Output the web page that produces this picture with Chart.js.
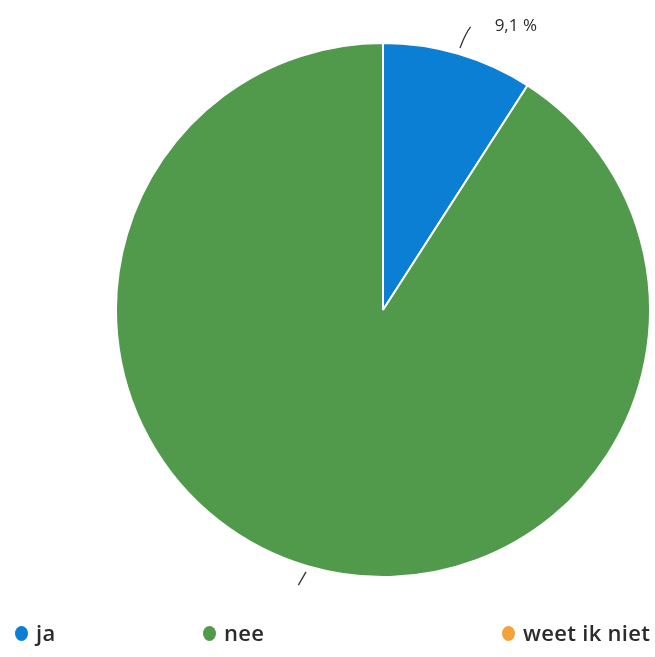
<!DOCTYPE html>
<html lang="nl">
<head>
  <meta charset="UTF-8">
  <title>Taart - ja / nee / weet ik niet</title>
  <script src="https://cdn.jsdelivr.net/npm/chart.js"></script>
  <style>
    html, body { margin: 0; padding: 0; background: #fff; }
    #wrap { position: relative; width: 655px; height: 657px; }
    #legenda { position: absolute; left: 0; top: 619px; width: 655px; height: 26px;
      font-family: "Open Sans", "DejaVu Sans", sans-serif; font-size: 22px; font-weight: 600; color: #2b2b2b; }
    #legenda span { position: absolute; top: 0; line-height: 26px; white-space: nowrap; letter-spacing: 0.3px; }
    #legenda i { display: inline-block; width: 13px; height: 15px; border-radius: 50%; margin-right: 8px; vertical-align: 0px; }
  </style>
</head>
<body>
  <div id="wrap">
    <canvas id="taart" width="655" height="657"></canvas>
    <div id="legenda"></div>
  </div>

  <script>
    const categorieen = ['ja', 'nee', 'weet ik niet'];
    const waarden = [9.1, 90.9, 0];
    const kleuren = ['#0b7fd4', '#519a4b', '#f2a23a'];
    const labelTekst = ['9,1 %', '', ''];
    const legendaX = [15, 203, 502];

    // legenda in html, de items staan niet gelijk verdeeld
    const leg = document.getElementById('legenda');
    categorieen.forEach((c, i) => {
      const s = document.createElement('span');
      s.style.left = legendaX[i] + 'px';
      s.innerHTML = `<i style="background:${kleuren[i]}"></i>${c}`;
      leg.appendChild(s);
    });

    // lijntjes + percentages naast de taart
    const labelPlugin = {
      id: 'labels',
      afterDatasetsDraw(chart) {
        const ctx = chart.ctx;
        const meta = chart.getDatasetMeta(0);
        meta.data.forEach((arc, i) => {
          if (!waarden[i]) return;
          const mid = (arc.startAngle + arc.endAngle) / 2;
          const r = arc.outerRadius;
          const x1 = arc.x + Math.cos(mid) * (r + 6), y1 = arc.y + Math.sin(mid) * (r + 6);
          const x2 = arc.x + Math.cos(mid) * (r + 26), y2 = arc.y + Math.sin(mid) * (r + 26);
          ctx.save();
          ctx.strokeStyle = '#333';
          ctx.lineWidth = 1.3;
          ctx.beginPath();
          ctx.moveTo(x1, y1);
          if (labelTekst[i]) {
            ctx.quadraticCurveTo(x2, y2 + 4, x2 + 5, y2 - 2);
          } else {
            ctx.lineTo(x2 - 2, y2 - 6);
          }
          ctx.stroke();
          if (labelTekst[i]) {
            ctx.fillStyle = '#2b2b2b';
            ctx.font = '17px "Open Sans", "DejaVu Sans", sans-serif';
            ctx.textBaseline = 'middle';
            ctx.fillText(labelTekst[i], x2 + 29, y2 - 3);
          }
          ctx.restore();
        });
      }
    };

    new Chart(document.getElementById('taart'), {
      type: 'pie',
      data: {
        labels: categorieen,
        datasets: [{
          data: waarden,
          backgroundColor: kleuren,
          borderColor: '#ffffff',
          borderWidth: 2
        }]
      },
      options: {
        responsive: false,
        animation: false,
        layout: { padding: { top: 42, bottom: 79, left: 115, right: 4 } },
        plugins: {
          legend: { display: false },
          tooltip: { enabled: false }
        }
      },
      plugins: [labelPlugin]
    });
  </script>
</body>
</html>
